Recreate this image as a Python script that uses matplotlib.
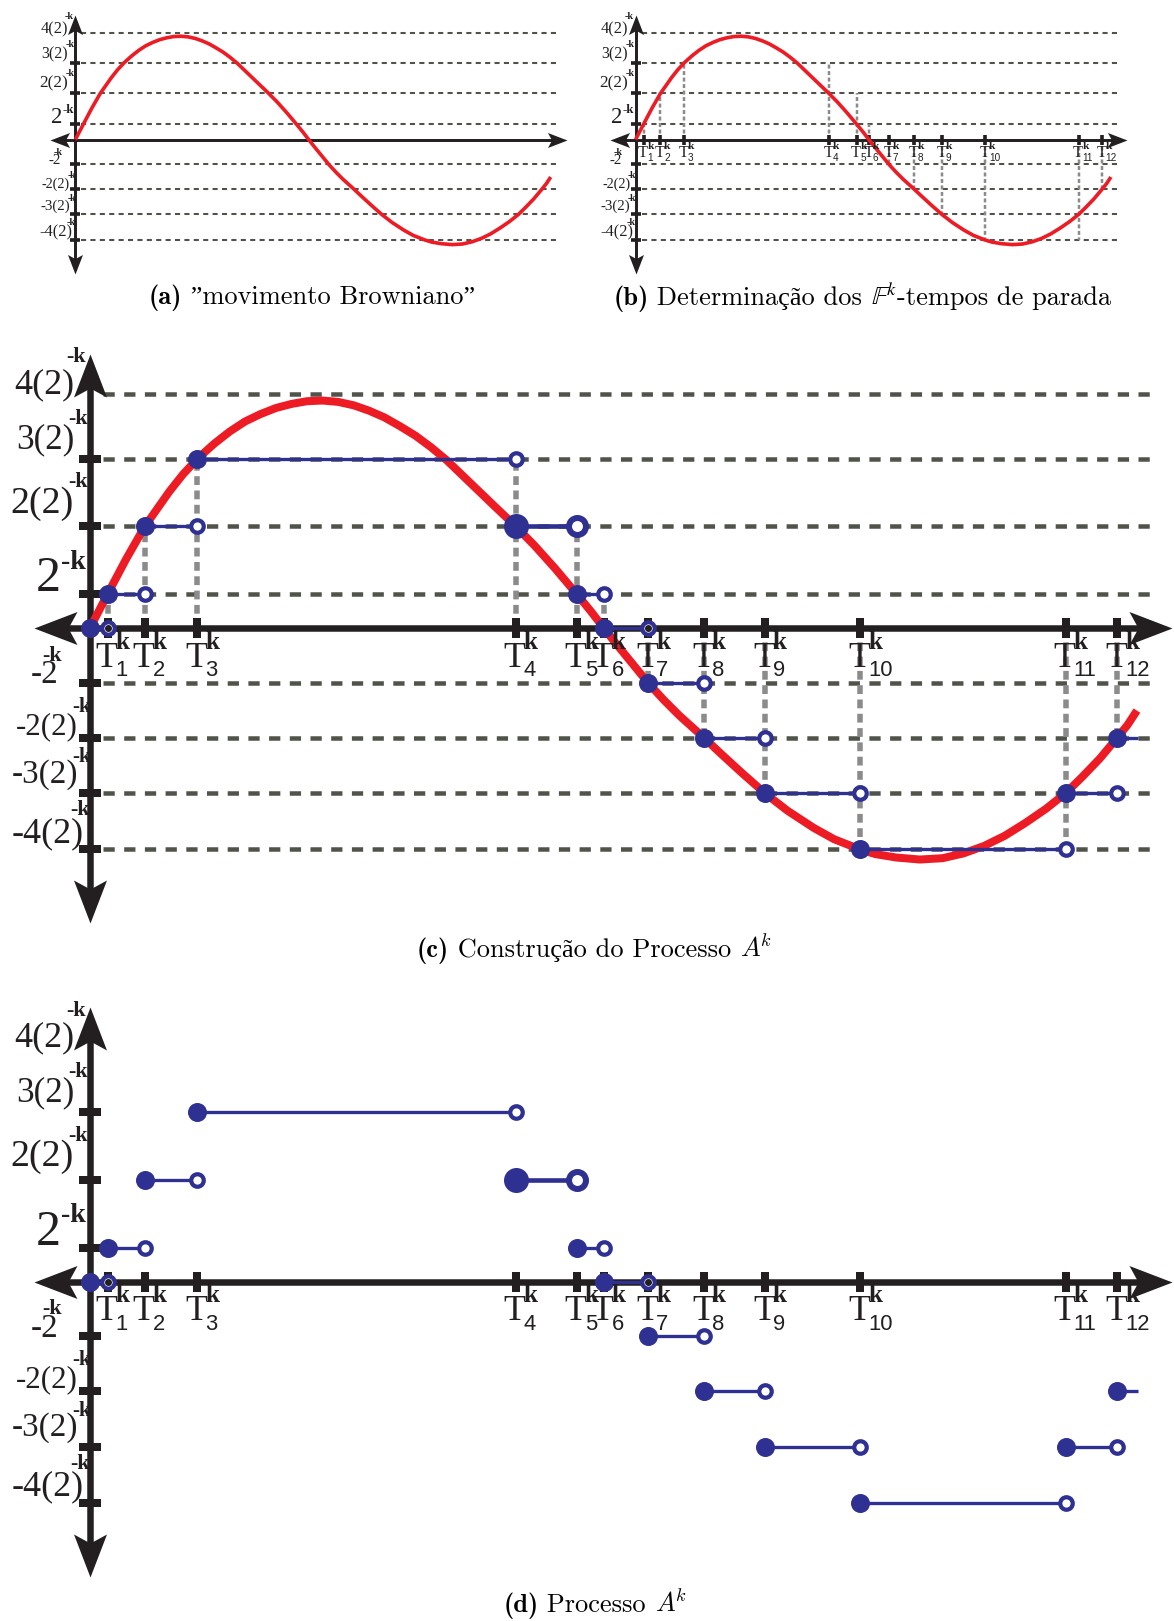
import matplotlib
matplotlib.use("Agg")
import matplotlib.pyplot as plt
from matplotlib.path import Path
from matplotlib.offsetbox import TextArea, HPacker, AnnotationBbox

# ---------------- data ----------------
levels = [4, 3, 2, 1, -1, -2, -3, -4]
level_heights = [3.45, 2.50, 1.50, 0.50, -0.81, -1.62, -2.44, -3.27]   # drawn height of each level line
level_names = ["4(2)", "3(2)", "2(2)", "2", "-2", "-2(2)", "-3(2)", "-4(2)"]
level_sup = "-k"

stop_labels = ["1", "2", "3", "4", "5", "6", "7", "8", "9", "10", "11", "12"]
stop_times = [0.17, 0.53, 1.04, 4.12, 4.71, 4.97, 5.40, 5.94, 6.53, 7.45, 9.44, 9.94]
process_values = [0, 1, 2, 3, 2, 1, 0, -1, -2, -3, -4, -3, -2]   # A^k on [T_i, T_{i+1})
vline_reach = [1, 2, 3, 3, 2, 1, -1, -2, -3, -4, -4, -2]
process_end = 10.14
big_step = 4   # the step drawn with bigger markers

path_t = [0.00, 0.17, 0.35, 0.53, 0.65, 0.77, 0.90, 1.04, 1.20, 1.35, 1.50, 1.65,
          1.80, 1.95, 2.10, 2.25, 2.40, 2.55, 2.70, 2.85, 3.00, 3.15, 3.30, 3.45,
          3.60, 3.75, 3.90, 4.12, 4.30, 4.50, 4.71, 4.85, 4.97, 5.10, 5.25, 5.40,
          5.55, 5.70, 5.94, 6.10, 6.30, 6.53, 6.75, 7.00, 7.20, 7.45, 7.60, 7.80,
          8.03, 8.25, 8.45, 8.65, 8.85, 9.05, 9.25, 9.44, 9.60, 9.77, 9.94, 10.04, 10.13]
path_y = [0.00, 0.50, 1.02, 1.50, 1.76, 2.02, 2.27, 2.50, 2.72, 2.90, 3.05, 3.16,
          3.25, 3.31, 3.35, 3.36, 3.34, 3.29, 3.21, 3.11, 2.98, 2.84, 2.67, 2.48,
          2.26, 2.04, 1.82, 1.50, 1.22, 0.88, 0.50, 0.24, 0.00, -0.25, -0.53, -0.81,
          -1.06, -1.29, -1.62, -1.85, -2.13, -2.44, -2.70, -2.95, -3.12, -3.27, -3.34, -3.39,
          -3.42, -3.40, -3.33, -3.22, -3.07, -2.88, -2.67, -2.44, -2.20, -1.93, -1.62, -1.43, -1.22]

# caption pieces: (text, math font family or None)
captions = [
    ("(a)", [(" \u201dmovimento Browniano\u201d", None)]),
    ("(b)", [(" Determinação dos ", None), (r"$\mathbb{F}^{\,k}$", "stix"), ("-tempos de parada", None)]),
    ("(c)", [(" Construção do Processo ", None), (r"$A^{\!k}$", "cm")]),
    ("(d)", [(" Processo ", None), (r"$A^{\!k}$", "cm")]),
]

# ---------------- styles / layout ----------------
W, H = 1174, 1621
DPI = 100
PX = 72.0 / DPI
RED = "#ed1c24"
BLUE = "#2e3192"
BLACK = "#231f20"
GRID = "#50534a"
VGRAY = "#8b8b8b"
SERIF = ["Liberation Serif", "DejaVu Serif"]
SANS = ["Liberation Sans", "DejaVu Sans"]
CMR = ["cmr10", "Liberation Serif"]
CMB = ["cmb10", "Liberation Serif"]

# (fontsize px, dx right edge, dy center, sup fontsize px, sup dx left, sup dy)
label_style = [
    (36, -16, 10, 22, -24, 37),
    (35, -16, 19, 22, -22, 40),
    (38, -16, 23, 22, -22, 44),
    (50, -29, 15, 28, -29, 32),
    (33, -31, 8, 22, -48, 27),
    (31, -12, 11, 21, -18, 31),
    (33, -12, 19, 21, -18, 36),
    (36, -6, 16, 22, -20, 39),
]

X_MIN, X_MAX = -0.54, 10.47
Y_MIN, Y_MAX = -4.36, 4.05
GRID_X0, GRID_X1 = 0.13, 10.30

BASE_SX, BASE_SY = 103.35, 67.7

# panel: origin px (from top-left), scale, flags
panels = [
    dict(o=(75.4, 139.5), s=0.454, curve=True, grid=True, vl=False, proc=False, xt=False),
    dict(o=(635.6, 139.5), s=0.454, curve=True, grid=True, vl=True, proc=False, xt=True),
    dict(o=(90.0, 628.0), s=1.0, curve=True, grid=True, vl=True, proc=True, xt=True),
    dict(o=(90.0, 1281.5), s=1.0, curve=False, grid=False, vl=False, proc=True, xt=True),
]
caption_pos = [(312, 298), (862, 298), (594, 949), (595, 1604)]
CAP_FS = 19


def arrow_path(direction):
    L, Wd, N = 43.0, 16.5, 34.0
    base = [(0, 0), (-L, Wd), (-N, 0), (-L, -Wd), (0, 0)]
    if direction == "right":
        v = base
    elif direction == "left":
        v = [(-x, y) for x, y in base]
    elif direction == "up":
        v = [(y, x) for x, y in base]
    else:
        v = [(y, -x) for x, y in base]
    codes = [Path.MOVETO, Path.LINETO, Path.LINETO, Path.LINETO, Path.CLOSEPOLY]
    return Path(v, codes)


hmap = dict(zip(levels, level_heights))
hmap[0] = 0.0

fig = plt.figure(figsize=(W / DPI, H / DPI), dpi=DPI)

for pi, P in enumerate(panels):
    s = P["s"]
    ox, oy = P["o"]
    sx, sy = BASE_SX * s, BASE_SY * s
    ax = fig.add_axes([0, 0, 1, 1])
    ax.set_xlim((0 - ox) / sx, (W - ox) / sx)
    ax.set_ylim((oy - H) / sy, (oy - 0) / sy)
    ax.axis("off")

    def p(px):
        return px * PX * s

    # level grid lines
    if P["grid"]:
        for lv in levels:
            ax.plot([GRID_X0, GRID_X1], [hmap[lv], hmap[lv]], color=GRID, lw=p(4.5),
                    dashes=(2.5, 2.1), dash_capstyle="butt", zorder=1)
    # vertical stopping-time lines
    if P["vl"]:
        for t, r in zip(stop_times, vline_reach):
            ax.plot([t, t], [0, hmap[r]], color=VGRAY, lw=p(5.5), dashes=(1.6, 1.0),
                    dash_capstyle="butt", zorder=2)
    # axes lines
    ax.plot([X_MIN + 0.2, X_MAX - 0.2], [0, 0], color=BLACK, lw=p(6.5), zorder=3,
            solid_capstyle="butt")
    ax.plot([0, 0], [Y_MIN + 0.3, Y_MAX - 0.3], color=BLACK, lw=p(6.5), zorder=3,
            solid_capstyle="butt")
    for d, (xx, yy) in {"right": (X_MAX, 0), "left": (X_MIN, 0),
                        "up": (0, Y_MAX), "down": (0, Y_MIN)}.items():
        ax.plot([xx], [yy], marker=arrow_path(d), ms=p(86), color=BLACK, mew=0,
                zorder=3, linestyle="none")
    # y ticks
    ax.plot([0] * 7, [hmap[lv] for lv in levels[1:]], marker="_", ms=p(22), mew=p(8),
            color=BLACK, linestyle="none", zorder=3)
    # x ticks
    if P["xt"]:
        ax.plot(stop_times, [0] * len(stop_times), marker="|", ms=p(20), mew=p(8),
                color=BLACK, linestyle="none", zorder=3)
    # red path
    if P["curve"]:
        ax.plot(path_t, path_y, color=RED, lw=p(8), solid_joinstyle="round",
                solid_capstyle="butt", zorder=4)
    # process A^k
    if P["proc"]:
        starts = [0.0] + stop_times
        ends = stop_times + [process_end]
        for i, (a, b, v) in enumerate(zip(starts, ends, process_values)):
            big = i == big_step
            yv = hmap[v]
            ax.plot([a, b], [yv, yv], color=BLUE, lw=p(4.6 if big else 3.3),
                    solid_capstyle="butt", zorder=5)
            ax.plot([a], [yv], "o", ms=p(25 if big else 19), color=BLUE, mew=0, zorder=6)
            if i < len(stop_times):
                ax.plot([b], [yv], "o", ms=p(17 if big else 12.5), mfc="white", mec=BLUE,
                        mew=p(6 if big else 4.2), zorder=6)
                if v == 0:
                    ax.plot([b], [yv], "o", ms=p(7), color=BLACK, mew=0, zorder=7)
    # T labels
    if P["xt"]:
        for t, lab in zip(stop_times, stop_labels):
            ax.annotate("T", (t, 0), xytext=(p(-1), p(-39)), textcoords="offset points",
                        ha="center", va="baseline", fontsize=p(36), family=SERIF,
                        color=BLACK, zorder=8)
            ax.annotate("k", (t, 0), xytext=(p(8), p(-21)), textcoords="offset points",
                        ha="left", va="baseline", fontsize=p(25), family=SERIF,
                        fontweight="bold", color=BLACK, zorder=8)
            ax.annotate(lab, (t, 0), xytext=(p(8), p(-48)), textcoords="offset points",
                        ha="left", va="baseline", fontsize=p(22), family=SANS,
                        color=BLACK, zorder=8)
    # y labels
    for lv, name, st in zip(levels, level_names, label_style):
        fs, dx, dy, sfs, sdx, sdy = st
        ax.annotate(name, (0, hmap[lv]), xytext=(p(dx), p(dy)), textcoords="offset points",
                    ha="right", va="center", fontsize=p(fs), family=SERIF, color=BLACK,
                    zorder=8)
        ax.annotate(level_sup, (0, hmap[lv]), xytext=(p(sdx), p(sdy)),
                    textcoords="offset points", ha="left", va="center", fontsize=p(sfs),
                    family=SERIF, fontweight="bold", color=BLACK, zorder=8)

    # caption
    tag, parts = captions[pi]
    children = [TextArea(tag, textprops=dict(fontsize=CAP_FS, family=CMB, color="black"))]
    for txt, mfam in parts:
        if mfam:
            ta = TextArea(txt, textprops=dict(fontsize=CAP_FS, math_fontfamily=mfam,
                                               family=CMR, color="black"))
        else:
            ta = TextArea(txt, textprops=dict(fontsize=CAP_FS, family=CMR, color="black"))
        children.append(ta)
    box = HPacker(children=children, align="baseline", pad=0, sep=0)
    cx, cy = caption_pos[pi]
    ab = AnnotationBbox(box, (cx, H - cy), xycoords="figure pixels", frameon=False,
                        box_alignment=(0.5, 0.5), pad=0)
    ax.add_artist(ab)

fig.savefig("out.png", dpi=DPI)
